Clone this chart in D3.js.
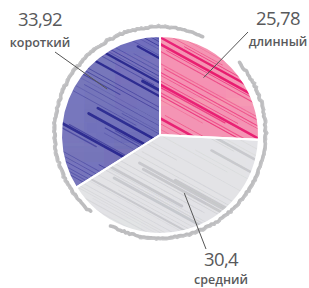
<!DOCTYPE html>
<html>
<head>
<meta charset="utf-8">
<script src="https://cdn.jsdelivr.net/npm/d3@7"></script>
<style>
  body { margin: 0; background: #fff; }
  svg { display: block; }
</style>
</head>
<body>
<div id="container"></div>
<script>
// slice data (clockwise from 12 o'clock)
let categories = ["длинный", "средний", "короткий"];
let shares = [25.78, 40.30, 33.92];          // slice sizes as drawn
let valueLabels = ["25,78", "30,4", "33,92"]; // printed numbers
let fillColors = ["#f59db7", "#e4e5e7", "#7b79bf"];
let hatchColors = ["#e8176f", "#c6c7ca", "#25248c"];

let w = 309;
let h = 288;
let cx = 160;
let cy = 135;
let radius = 99;

let svg = d3.select("#container")
          .append("svg")
          .attr("width", w)
          .attr("height", h)
;

// small seeded generator for the sketchy look
function mulberry(seed){
  return function(){
    seed |= 0; seed = seed + 0x6D2B79F5 | 0;
    let t = Math.imul(seed ^ seed >>> 15, 1 | seed);
    t = t + Math.imul(t ^ t >>> 7, 61 | t) ^ t;
    return ((t ^ t >>> 14) >>> 0) / 4294967296;
  }
}
let rnd = mulberry(7);

let pie = d3.pie().sort(null).value(d=>d.value);
let arcs = pie(categories.map((c,i)=>({name: c, value: shares[i], i: i})));
let arc = d3.arc().innerRadius(0).outerRadius(radius);

let g = svg.append("g").attr("transform", "translate("+cx+","+cy+")");
let defs = svg.append("defs");

// outer rough ring, two pieces with gaps top-right and bottom-left
let ringPieces = [[3.88, 0.41 + Math.PI*2], [0.83, 3.64]];
let ringLine = d3.lineRadial().curve(d3.curveLinear);
ringPieces.forEach((p, k)=>{
  let pts = [];
  let n = 140;
  for (let j = 0; j <= n; j++){
    let a = p[0] + (p[1]-p[0])*j/n;
    pts.push([a, 105.5 + Math.cos(a)*2.5 + (rnd()-0.5)*1.6]);
  }
  g.append("path")
    .attr("d", ringLine(pts))
    .attr("fill", "none")
    .attr("stroke", "#bdbdbf")
    .attr("stroke-width", 3.6)
    .attr("stroke-linecap", "round")
    .attr("stroke-linejoin", "round");
  // thinner second stroke for the sketch feel
  let pts2 = pts.map(q=>[q[0], q[1] + 1.3 + (rnd()-0.5)*1.2]);
  g.append("path")
    .attr("d", ringLine(pts2.slice(10, pts2.length-15)))
    .attr("fill", "none")
    .attr("stroke", "#c4c4c6")
    .attr("stroke-width", 1.4)
    .attr("stroke-linecap", "round");
});

// slices with hatch lines clipped inside
arcs.forEach((d, i)=>{
  defs.append("clipPath").attr("id", "clip"+i)
    .append("path").attr("d", arc(d));

  g.append("path")
    .attr("d", arc(d))
    .attr("fill", fillColors[i]);

  let hatch = g.append("g").attr("clip-path", "url(#clip"+i+")");
  let slope = 0.55;
  for (let off = -260; off < 260; off += 2.5 + rnd()*3.5){
    let x1 = -130, x2 = 130;
    let start = x1 + rnd()*260;
    let len = 80 + rnd()*220;
    let xa = Math.max(x1, start - len/2), xb = Math.min(x2, start + len/2);
    let thick = rnd() < 0.25;
    hatch.append("line")
      .attr("x1", xa).attr("y1", off + xa*slope)
      .attr("x2", xb).attr("y2", off + xb*slope)
      .attr("stroke", hatchColors[i])
      .attr("stroke-width", thick ? 2 + rnd()*1 : 0.5 + rnd()*0.8)
      .attr("stroke-linecap", "round")
      .attr("opacity", thick ? 0.85 : 0.3 + rnd()*0.4);
  }
});

// white separators
g.selectAll(".sep").data(arcs).enter().append("path")
  .attr("class", "sep")
  .attr("d", arc)
  .attr("fill", "none")
  .attr("stroke", "#fff")
  .attr("stroke-width", 2)
  .attr("stroke-linejoin", "round");

// labels: text placement per slice, line runs into the slice
let labelPos = [
  {tx: 278, ty: 25, gap: 21, lx: 248, ly: 32, r: 72, da: -0.16},
  {tx: 221, ty: 266, gap: 18, lx: 206, ly: 249, r: 63, da: -0.14},
  {tx: 40,  ty: 26, gap: 21, lx: 55,  ly: 52, r: 70, da: 0.21}
];
arcs.forEach((d, i)=>{
  let p = labelPos[i];
  let mid = (d.startAngle + d.endAngle)/2 + p.da;
  let ix = cx + Math.sin(mid)*p.r;
  let iy = cy - Math.cos(mid)*p.r;
  svg.append("line")
    .attr("x1", p.lx).attr("y1", p.ly)
    .attr("x2", ix).attr("y2", iy)
    .attr("stroke", "#555")
    .attr("stroke-width", 1);
  svg.append("text")
    .attr("x", p.tx).attr("y", p.ty)
    .attr("text-anchor", "middle")
    .attr("font-family", "Open Sans")
    .attr("font-size", 18.5)
    .attr("letter-spacing", -0.6)
    .attr("fill", "#58595b")
    .text(valueLabels[i]);
  svg.append("text")
    .attr("x", p.tx).attr("y", p.ty + p.gap)
    .attr("text-anchor", "middle")
    .attr("font-family", "Open Sans")
    .attr("font-size", 12.5)
    .attr("font-weight", 600)
    .attr("fill", "#58595b")
    .text(categories[i]);
});
</script>
</body>
</html>
